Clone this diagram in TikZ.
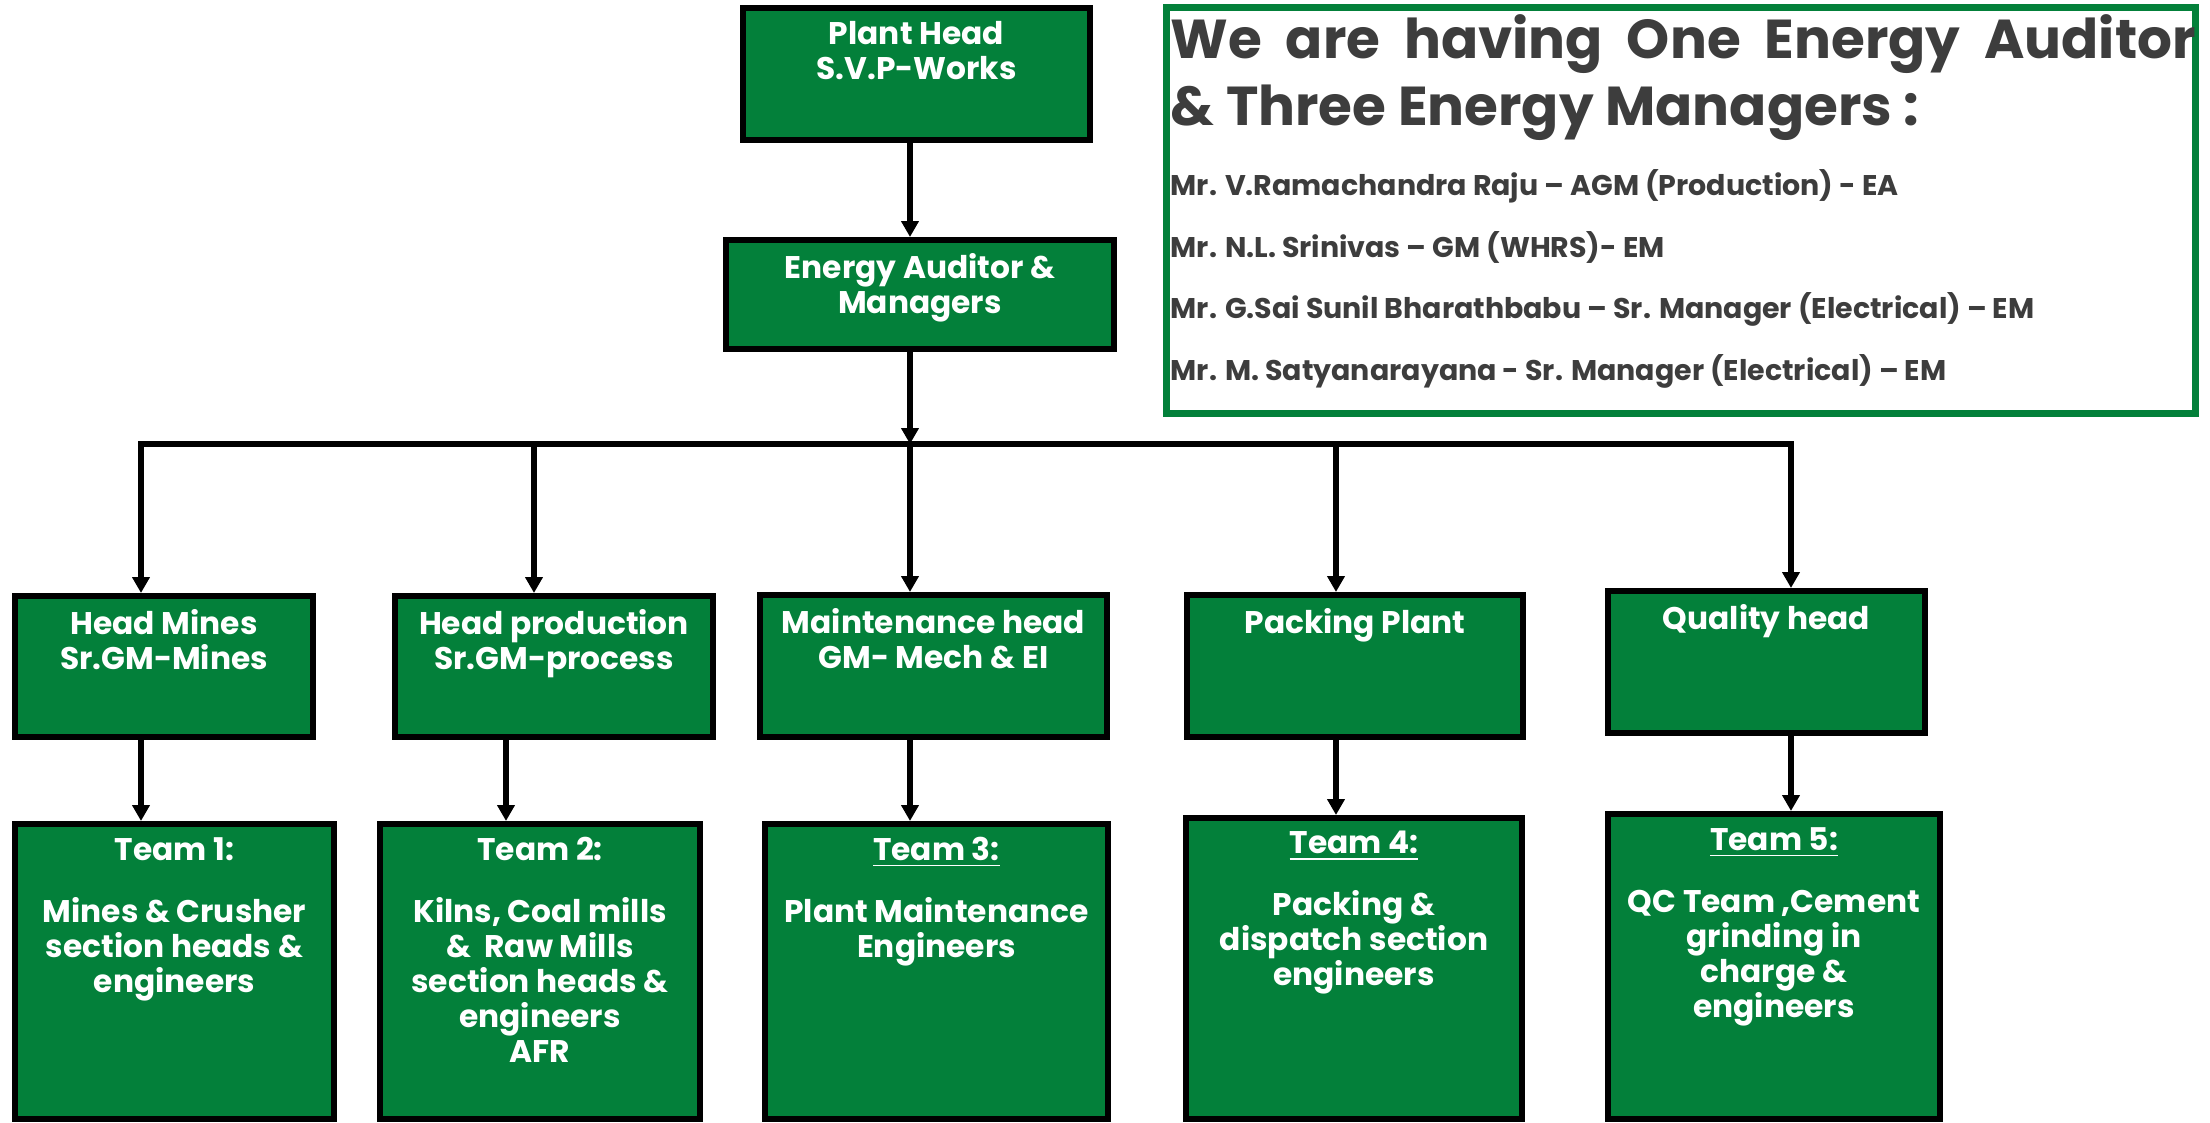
\documentclass[tikz,border=0pt]{standalone}
\usepackage{fontspec}
\setmainfont{Poppins}
\usetikzlibrary{arrows.meta,positioning,calc}
\definecolor{plantgreen}{HTML}{03803A}
\definecolor{notegray}{HTML}{3D3D3D}
\tikzset{
  % box style is used for the green chart blocks
  box/.style={rectangle, draw=black, line width=0.6mm, fill=plantgreen, inner sep=0pt},
  lbl/.style={text=white, align=center, inner sep=0pt, anchor=north,
  font=\bfseries\fontsize{8.9}{9.96}\selectfont},
  arr/.style={-{Triangle[width=1.7mm,length=1.6mm]}, line width=0.6mm},
  bus/.style={line width=0.6mm, line cap=rect},
  note/.style={anchor=base west, inner sep=0pt, text=notegray,
  font=\bfseries\fontsize{8.1}{9}\selectfont},
  notetitle/.style={note, font=\bfseries\fontsize{15.6}{17}\selectfont}}

\begin{document}
\begin{tikzpicture}
\useasboundingbox (0,0) rectangle (22.10,-11.22);

\draw (9.165,-0.74) node (ph) [box, minimum width=3.47cm, minimum height=1.32cm] {};
\draw (ph.north) ++(0,-0.155) node [lbl] {Plant Head\\S.V.P-Works};

\draw (9.20,-2.945) node (ea) [box, minimum width=3.88cm, minimum height=1.09cm] {};
\draw (ea.north) ++(0,-0.155) node [lbl] {Energy Auditor \&\\Managers};

% note box with the names
\draw (16.81,-2.105) node (note) [rectangle, draw=plantgreen, line width=0.7mm, minimum width=10.29cm, minimum height=4.06cm] {};
\draw (11.70,-0.58) node [notetitle] {\makebox[10.25cm][s]{We are having One Energy Auditor}};
\draw (11.70,-1.25) node [notetitle] {\& Three Energy Managers :};
\draw (11.70,-1.95) node [note] {Mr. V.Ramachandra Raju – AGM (Production) - EA};
\draw (11.70,-2.57) node [note] {Mr. N.L. Srinivas – GM (WHRS)- EM};
\draw (11.70,-3.18) node [note] {Mr. G.Sai Sunil Bharathbabu – Sr. Manager (Electrical) – EM};
\draw (11.70,-3.80) node [note] {Mr. M. Satyanarayana - Sr. Manager (Electrical) – EM};

% heads
\draw (1.64,-6.665) node (hm) [box, minimum width=2.98cm, minimum height=1.41cm] {};
\draw (hm.north) ++(0,-0.155) node [lbl] {Head Mines\\Sr.GM-Mines};

\draw (5.54,-6.665) node (hp) [box, minimum width=3.18cm, minimum height=1.41cm] {};
\draw (hp.north) ++(0,-0.155) node [lbl] {Head production\\Sr.GM-process};

\draw (9.335,-6.66) node (mh) [box, minimum width=3.47cm, minimum height=1.42cm] {};
\draw (mh.north) ++(0,-0.155) node [lbl] {Maintenance head\\GM- Mech \& EI};

\draw (13.55,-6.66) node (pp) [box, minimum width=3.36cm, minimum height=1.42cm] {};
\draw (pp.north) ++(0,-0.155) node [lbl] {Packing Plant};

\draw (17.665,-6.62) node (qh) [box, minimum width=3.17cm, minimum height=1.42cm] {};
\draw (qh.north) ++(0,-0.155) node [lbl] {Quality head};

% teams
\draw (1.745,-9.715) node (t1) [box, minimum width=3.19cm, minimum height=2.95cm] {};
\draw (t1.north) ++(0,-0.155) node [lbl] {Team 1:\\[0.27cm]Mines \& Crusher\\section heads \&\\engineers};

\draw (5.40,-9.715) node (t2) [box, minimum width=3.20cm, minimum height=2.95cm] {};
\draw (t2.north) ++(0,-0.155) node [lbl] {Team 2:\\[0.27cm]Kilns, Coal mills\\\&~ Raw Mills\\section heads \&\\engineers\\AFR};

\draw (9.365,-9.715) node (t3) [box, minimum width=3.43cm, minimum height=2.95cm] {};
\draw (t3.north) ++(0,-0.155) node [lbl] {\underline{Team 3:}\\[0.27cm]Plant Maintenance\\Engineers};

\draw (13.54,-9.685) node (t4) [box, minimum width=3.36cm, minimum height=3.01cm] {};
\draw (t4.north) ++(0,-0.155) node [lbl] {\underline{Team 4:}\\[0.27cm]Packing \&\\dispatch section\\engineers};

\draw (17.74,-9.665) node (t5) [box, minimum width=3.32cm, minimum height=3.05cm] {};
\draw (t5.north) ++(0,-0.155) node [lbl] {\underline{Team 5:}\\[0.27cm]QC Team ,Cement\\grinding in\\charge \&\\engineers};

% connecting lines
\coordinate (b1) at (1.41,-4.44);
\coordinate (b2) at (5.34,-4.44);
\coordinate (b3) at (9.10,-4.44);
\coordinate (b4) at (13.36,-4.44);
\coordinate (b5) at (17.91,-4.44);
\coordinate (c2) at (5.06,-7.80);

\draw [arr] (ph.south -| b3) -- (ea.north -| b3);
\draw [arr] (ea.south -| b3) -- (b3);
\draw [bus] (b1) -- (b5);

\draw [arr] (b1) -- (hm.north -| b1);
\draw [arr] (b2) -- (hp.north -| b2);
\draw [arr] (b3) -- (mh.north -| b3);
\draw [arr] (b4) -- (pp.north -| b4);
\draw [arr] (b5) -- (qh.north -| b5);

\draw [arr] (hm.south -| b1) -- (t1.north -| b1);
\draw [arr] (hp.south -| c2) -- (t2.north -| c2);
\draw [arr] (mh.south -| b3) -- (t3.north -| b3);
\draw [arr] (pp.south -| b4) -- (t4.north -| b4);
\draw [arr] (qh.south -| b5) -- (t5.north -| b5);

\end{tikzpicture}
\end{document}
